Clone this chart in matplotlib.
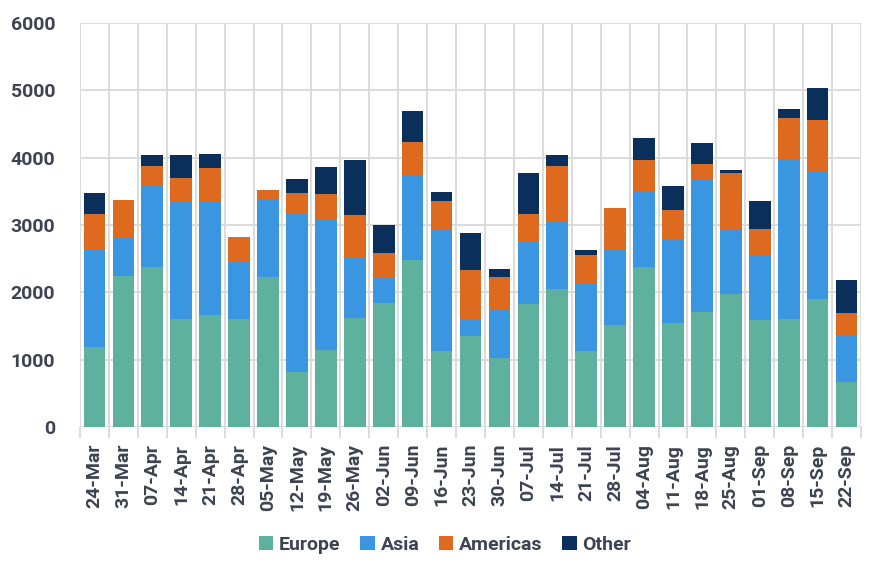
import matplotlib
matplotlib.use("Agg")
import matplotlib.pyplot as plt
import numpy as np

weeks = ["24-Mar", "31-Mar", "07-Apr", "14-Apr", "21-Apr", "28-Apr", "05-May", "12-May",
         "19-May", "26-May", "02-Jun", "09-Jun", "16-Jun", "23-Jun", "30-Jun", "07-Jul",
         "14-Jul", "21-Jul", "28-Jul", "04-Aug", "11-Aug", "18-Aug", "25-Aug", "01-Sep",
         "08-Sep", "15-Sep", "22-Sep"]
europe = [1190, 2250, 2380, 1605, 1665, 1605, 2235, 825, 1150, 1625, 1845, 2485, 1130, 1360,
          1030, 1835, 2050, 1130, 1510, 2380, 1545, 1710, 1980, 1590, 1605, 1905, 670]
asia = [1445, 560, 1215, 1750, 1690, 850, 1140, 2345, 1930, 890, 385, 1245, 1800, 245,
        715, 920, 1000, 1010, 1135, 1115, 1245, 1975, 965, 965, 2375, 1900, 685]
americas = [530, 565, 285, 340, 490, 365, 145, 305, 385, 635, 355, 500, 425, 725,
            485, 410, 830, 415, 610, 470, 430, 220, 830, 385, 605, 755, 340]
other = [310, 0, 160, 340, 205, 0, 0, 210, 395, 815, 415, 460, 135, 550,
         120, 605, 160, 80, 0, 325, 355, 310, 45, 415, 135, 475, 490]

series = [("Europe", europe, "#5db19d"), ("Asia", asia, "#3a96e1"),
          ("Americas", americas, "#de6a1f"), ("Other", other, "#0b2f5b")]

plt.rcParams['font.family'] = ['Roboto', 'DejaVu Sans']
text_color = "#3d4451"
grid_color = "#d9d9d9"

fig = plt.figure(figsize=(8.84, 5.77), dpi=100)
ax = fig.add_axes([80/884, 1 - 427.3/577, 781/884, (427.3 - 22.7)/577])

x = np.arange(len(weeks))
bottom = np.zeros(len(weeks))
for name, vals, col in series:
    v = np.array(vals, dtype=float)
    ax.bar(x, v, bottom=bottom, width=0.75, color=col, label=name, zorder=3)
    bottom += v

ax.set_xlim(-0.5, len(weeks) - 0.5)
ax.set_ylim(0, 6000)
ax.set_yticks(np.arange(0, 6001, 1000))
ax.set_xticks(x)
ax.set_xticklabels(weeks, rotation=90, fontsize=14, fontweight='bold', color=text_color)
ax.set_xticks(np.arange(-0.5, len(weeks), 1.0), minor=True)
for lab in ax.get_yticklabels():
    lab.set_fontsize(14)
    lab.set_fontweight('bold')
    lab.set_color(text_color)

ax.tick_params(axis='x', which='major', length=0, pad=12)
ax.tick_params(axis='x', which='minor', length=8, width=1.3, color=grid_color, direction='out')
ax.tick_params(axis='y', length=0, pad=18)

ax.grid(axis='y', which='major', color=grid_color, linewidth=1.3, zorder=0)
ax.grid(axis='x', which='minor', color=grid_color, linewidth=1.3, zorder=0)
ax.grid(axis='x', which='major', visible=False)
for s in ax.spines.values():
    s.set_visible(False)
ax.set_axisbelow(True)

leg = fig.legend(loc='center', bbox_to_anchor=(445/884, 1 - 545/577), ncol=4, frameon=False,
                 handlelength=0.75, handleheight=0.75, handletextpad=0.3, columnspacing=1.0,
                 prop={'size': 14, 'weight': 'bold'})
for t in leg.get_texts():
    t.set_color(text_color)

fig.savefig("out.png", dpi=100)
